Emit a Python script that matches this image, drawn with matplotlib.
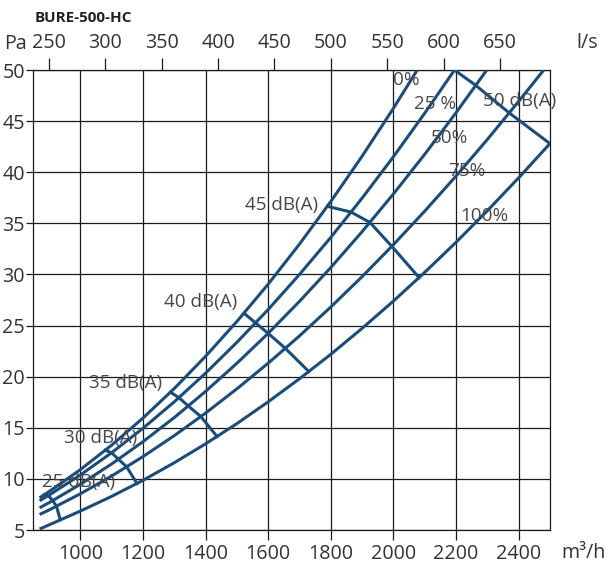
import matplotlib
matplotlib.use('Agg')
import matplotlib.pyplot as plt

plt.rcParams['font.family'] = ['Open Sans', 'DejaVu Sans']

# damper setting curves: airflow (m3/h) and pressure (Pa)
flow_0 = [870, 900, 1000, 1100, 1200, 1300, 1400, 1500, 1600, 1700, 1800, 1900, 2000, 2076]
pa_0 = [8.15, 8.75, 10.9, 13.3, 15.95, 18.84, 21.99, 25.4, 29.05, 32.97, 37.14, 41.57, 46.26, 50.0]

flow_25 = [870, 900, 1000, 1100, 1200, 1300, 1400, 1500, 1600, 1700, 1800, 1900, 2000, 2100, 2195]
pa_25 = [7.86, 8.41, 10.38, 12.56, 14.95, 17.54, 20.34, 23.36, 26.57, 30.0, 33.63, 37.47, 41.52, 45.78, 50.0]

flow_50 = [870, 900, 1000, 1100, 1200, 1300, 1400, 1500, 1600, 1700, 1800, 1900, 2000, 2100, 2200, 2298]
pa_50 = [7.17, 7.67, 9.47, 11.46, 13.64, 16.0, 18.56, 21.31, 24.24, 27.37, 30.68, 34.19, 37.88, 41.76, 45.83, 50.0]

flow_75 = [870, 900, 1000, 1100, 1200, 1300, 1400, 1500, 1600, 1700, 1800, 1900, 2000, 2100, 2200, 2300, 2400, 2480]
pa_75 = [6.52, 6.96, 8.54, 10.28, 12.18, 14.23, 16.44, 18.81, 21.32, 23.99, 26.82, 29.79, 32.92, 36.2, 39.63, 43.21, 46.94, 50.0]

flow_100 = [870, 900, 1000, 1100, 1200, 1300, 1400, 1500, 1600, 1700, 1800, 1900, 2000, 2100, 2200, 2300, 2400, 2500]
pa_100 = [5.1, 5.5, 6.85, 8.29, 9.86, 11.58, 13.43, 15.41, 17.54, 19.8, 22.19, 24.73, 27.4, 30.21, 33.15, 36.24, 39.46, 42.81]

# iso-noise lines (crossing points on each curve)
db25_flow = [885, 898, 912, 924, 936]
db25_pa = [8.45, 8.37, 7.88, 7.32, 6.0]
db30_flow = [1080, 1100, 1122, 1148, 1181]
db30_pa = [12.8, 12.56, 11.92, 11.18, 9.55]
db35_flow = [1288, 1315, 1345, 1385, 1437]
db35_pa = [18.48, 17.95, 17.13, 16.1, 14.14]
db40_flow = [1523, 1560, 1600, 1655, 1730]
db40_pa = [26.2, 25.26, 24.24, 22.77, 20.5]
db45_flow = [1789, 1865, 1925, 1995, 2082]
db45_pa = [36.67, 36.1, 35.09, 32.75, 29.69]
db50_flow = [2195, 2263, 2370, 2500]
db50_pa = [50.0, 48.5, 45.8, 42.8]

curve_labels = ['0%', '25 %', '50%', '75%', '100%']
curve_label_pos = [(2040, 49.0), (2132, 46.7), (2178, 43.4), (2234, 40.1), (2290, 35.7)]
db_labels = ['25 dB(A)', '30 dB(A)', '35 dB(A)', '40 dB(A)', '45 dB(A)', '50 dB(A)']
db_label_pos = [(993, 9.7), (1066, 14.0), (1144, 19.4), (1383, 27.3), (1642, 36.75), (2402, 47.0)]

x_ticks = [1000, 1200, 1400, 1600, 1800, 2000, 2200, 2400]
y_ticks = [5, 10, 15, 20, 25, 30, 35, 40, 45, 50]
ls_ticks = [250, 300, 350, 400, 450, 500, 550, 600, 650]

blue = '#1c4d7a'
ink = '#333333'

fig = plt.figure(figsize=(6.08, 5.69), dpi=100)
ax = fig.add_axes([0.0548, 0.0685, 0.8498, 0.8084])

for q, p in [(flow_0, pa_0), (flow_25, pa_25), (flow_50, pa_50), (flow_75, pa_75), (flow_100, pa_100)]:
    ax.plot(q, p, color=blue, lw=2.2, solid_capstyle='butt', zorder=3)

for q, p in [(db25_flow, db25_pa), (db30_flow, db30_pa), (db35_flow, db35_pa),
             (db40_flow, db40_pa), (db45_flow, db45_pa), (db50_flow, db50_pa)]:
    ax.plot(q, p, color=blue, lw=2.2, solid_joinstyle='round', zorder=3)

for txt, (x, y) in zip(curve_labels + db_labels, curve_label_pos + db_label_pos):
    ax.text(x, y, txt, ha='center', va='center', fontsize=13.6, color='#474747',
            zorder=4, clip_on=False)

ax.set_xlim(850, 2500)
ax.set_ylim(5, 50)
ax.set_xticks(x_ticks)
ax.set_yticks(y_ticks)
ax.grid(True, color='#1a1a1a', lw=0.9)
ax.set_axisbelow(True)
for s in ax.spines.values():
    s.set_color('#1a1a1a')
    s.set_linewidth(0.9)

ax.tick_params(axis='x', length=7, width=0.9, pad=3, labelsize=14.2, colors='#1a1a1a', labelcolor=ink)
ax.tick_params(axis='y', length=5, width=0.9, pad=1, labelsize=14.2, colors='#1a1a1a', labelcolor=ink)

top = ax.secondary_xaxis('top', functions=(lambda q: q / 3.6, lambda l: l * 3.6))
top.set_xticks(ls_ticks)
top.tick_params(length=9, width=0.9, pad=3, labelsize=14.2, colors='#1a1a1a', labelcolor=ink)
top.spines['top'].set_visible(False)

fig.text(35 / 608, 1 - 18 / 569, 'BURE-500-HC', fontsize=11, fontweight='bold',
         color='#222222', ha='left', va='center')
fig.text(4 / 608, 1 - 44 / 569, 'Pa', fontsize=14.2, color=ink, ha='left', va='center')
fig.text(576 / 608, 1 - 43 / 569, 'l/s', fontsize=14.2, color=ink, ha='left', va='center')
fig.text(561 / 608, 1 - 553 / 569, 'm³/h', fontsize=14.2, color=ink, ha='left', va='center')

fig.savefig('out.png', dpi=100)
